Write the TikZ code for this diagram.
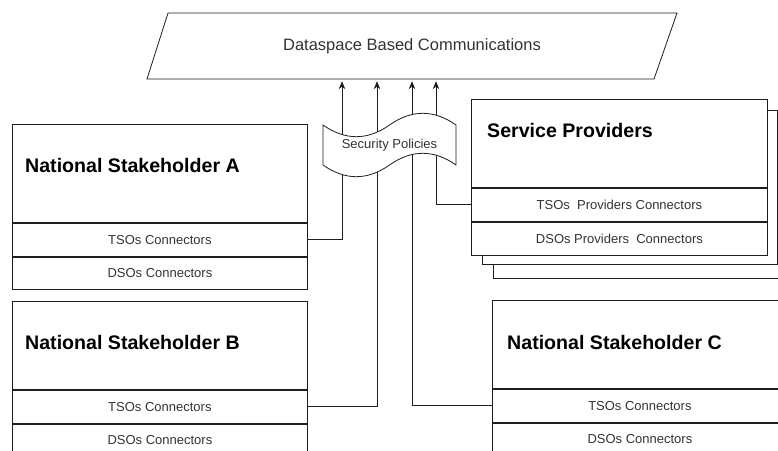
\documentclass[tikz,border=0pt]{standalone}
\usepackage{fontspec}
\setmainfont{Liberation Sans}
\usepackage{xcolor}
\usepackage{tikz}
\usetikzlibrary{shapes.geometric, arrows.meta, positioning, calc}
\definecolor{linecolor}{RGB}{30, 30, 30}
\definecolor{labelgray}{RGB}{51, 51, 51}

\begin{document}
\begin{tikzpicture}[
    x=1pt, y=-1pt,
    header/.style={draw=linecolor, fill=white, line width=0.8pt, minimum width=295pt, minimum height=88pt, inner sep=0pt, anchor=north west},
    conrow/.style={draw=linecolor, fill=white, line width=0.8pt, minimum width=295pt, minimum height=33pt, inner sep=0pt, anchor=north, font=\fontsize{13}{15}\selectfont, text=labelgray},
    shadowbox/.style={draw=linecolor, fill=white, line width=0.8pt, inner sep=0pt, anchor=north west},
    title/.style={anchor=west, inner sep=0pt, font=\fontsize{19.6}{22}\selectfont\bfseries},
    flow/.style={-{Stealth[length=8pt, width=6.5pt]}, line width=0.8pt, linecolor, shorten >=2pt}
]
    \clip (0,0) rectangle (778,450);
    \fill[white] (0,0) rectangle (778,450);

    % Dataspace
    \draw[linecolor, line width=0.8pt, fill=white] (168,13) -- (677,13) -- (654,79) -- (147,79) -- cycle;
    \node[minimum width=487pt, minimum height=66pt, inner sep=0pt,
          font=\fontsize{16.5}{19}\selectfont, text=labelgray] (dbc) at (412,46) {Dataspace Based Communications};

    % National Stakeholder A
    \node[header, minimum height=98pt] (aHead) at (12,124) {};
    \node[title] (aTitle) at (25,165) {National Stakeholder A};
    \node[conrow] (aTso) at (aHead.south) {TSOs Connectors};
    \node[conrow, minimum height=32pt] (aDso) at (aTso.south) {DSOs Connectors};

    % National Stakeholder B
    \node[header] (bHead) at (12,301) {};
    \node[title] (bTitle) at (25,342) {National Stakeholder B};
    \node[conrow] (bTso) at (bHead.south) {TSOs Connectors};
    \node[conrow] (bDso) at (bTso.south) {DSOs Connectors};

    % National Stakeholder C
    \node[header] (cHead) at (492,300) {};
    \node[title] (cTitle) at (507,342) {National Stakeholder C};
    \node[conrow] (cTso) at (cHead.south) {TSOs Connectors};
    \node[conrow] (cDso) at (cTso.south) {DSOs Connectors};

    % Service Providers (stacked)
    \node[shadowbox, minimum width=296pt, minimum height=157pt] (spBack) at (493,121) {};
    \node[shadowbox, minimum width=295pt, minimum height=154pt] (spMid) at (482,110) {};
    \node[header, minimum width=296pt] (spHead) at (471,99) {};
    \node[title] (spTitle) at (487,130) {Service Providers};
    \node[conrow, minimum width=296pt] (spTso) at (spHead.south) {TSOs\ \ Providers Connectors};
    \node[conrow, minimum width=296pt] (spDso) at (spTso.south) {DSOs Providers\ \ Connectors};

    % Links to the dataspace
    \draw[flow] (aTso.east) -| (342,0 |- dbc.south);
    \draw[flow] (bTso.east) -| (377,0 |- dbc.south);
    \draw[flow] (cTso.west) -| (412,0 |- dbc.south);
    \draw[flow] (spTso.west) -| (436,0 |- dbc.south);

    % Security Policies
    \draw[linecolor, line width=0.8pt, fill=white] (323,125)
        .. controls (345.2,140.6) and (367.3,140.6) .. (389.5,125)
        .. controls (411.7,109.4) and (433.8,109.4) .. (456,125)
        -- (456,165)
        .. controls (433.8,149.4) and (411.7,149.4) .. (389.5,165)
        .. controls (367.3,180.6) and (345.2,180.6) .. (323,165) -- cycle;
    \node[font=\fontsize{13}{15}\selectfont, text=labelgray] (secPol) at (389.5,145) {Security Policies};

\end{tikzpicture}
\end{document}
